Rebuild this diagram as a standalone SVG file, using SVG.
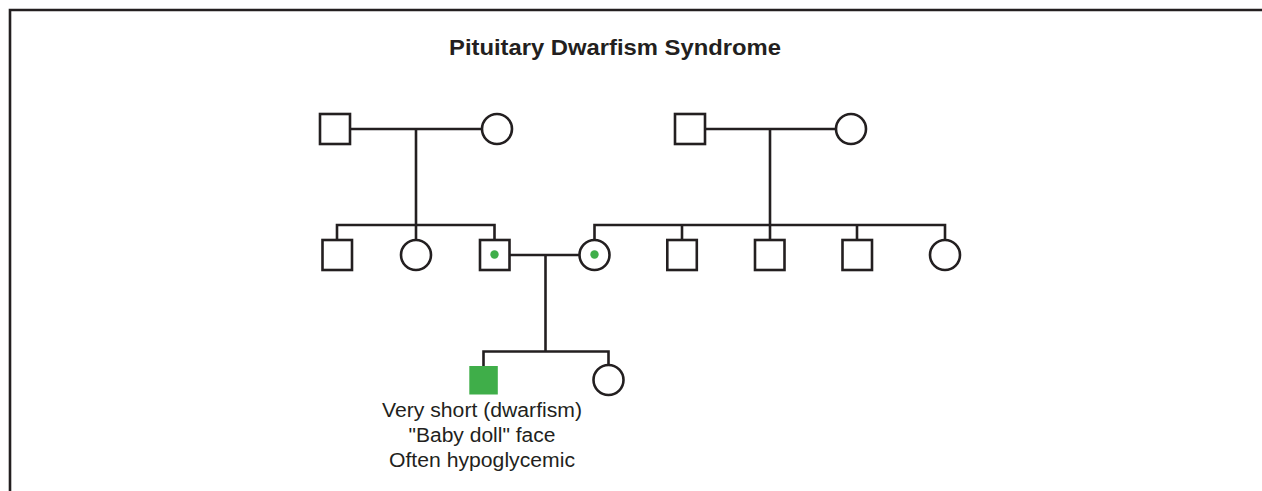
<svg xmlns="http://www.w3.org/2000/svg" width="1262" height="491" viewBox="0 0 1262 491">
<style>
.ln{fill:none;stroke:#231f20;stroke-width:2.6}
.sym{fill:#fff;stroke:#231f20;stroke-width:2.6}
.dot{fill:#3fae49}
.aff{fill:#3fae49}
.title{font-family:"Liberation Sans",Arial,sans-serif;font-weight:bold;font-size:22px;fill:#231f20;text-anchor:middle}
.lbl{font-family:"Liberation Sans",Arial,sans-serif;font-size:20px;fill:#231f20;text-anchor:middle}
</style>
<rect width="1262" height="491" fill="#fff"/>
<path class="ln" d="M10,491 V10 H1262" stroke-width="2.8"/>
<text class="title" x="615" y="55" textLength="332" lengthAdjust="spacingAndGlyphs">Pituitary Dwarfism Syndrome</text>
<g id="connectors">
<path class="ln" d="M350,129 H482"/>
<path class="ln" d="M416,129 V225"/>
<path class="ln" d="M337,240 V225 H494.5 V240"/>
<path class="ln" d="M416,225 V240"/>
<path class="ln" d="M705,129 H836"/>
<path class="ln" d="M770,129 V225"/>
<path class="ln" d="M594.5,240 V225 H945 V240"/>
<path class="ln" d="M682,225 V240"/>
<path class="ln" d="M770,225 V240"/>
<path class="ln" d="M857,225 V240"/>
<path class="ln" d="M509.5,255 H579.5"/>
<path class="ln" d="M545.5,255 V351.5"/>
<path class="ln" d="M483.5,366 V351.5 H608.5 V365"/>
</g>
<g id="gp1-male"><rect class="sym" x="320" y="114" width="30" height="30"/></g>
<g id="gp1-female"><circle class="sym" cx="497" cy="129" r="15"/></g>
<g id="gp2-male"><rect class="sym" x="675" y="114" width="30" height="30"/></g>
<g id="gp2-female"><circle class="sym" cx="851" cy="129" r="15"/></g>
<g id="c1-son1"><rect class="sym" x="322.5" y="240" width="29.5" height="30"/></g>
<g id="c1-daughter"><circle class="sym" cx="416" cy="255" r="15"/></g>
<g id="father"><rect class="sym" x="480" y="240" width="29.5" height="30"/><circle class="dot" cx="494.5" cy="254.5" r="4.2"/></g>
<g id="mother"><circle class="sym" cx="594.5" cy="255" r="15"/><circle class="dot" cx="594.5" cy="254.5" r="4.2"/></g>
<g id="c2-son1"><rect class="sym" x="667.3" y="240" width="29.5" height="30"/></g>
<g id="c2-son2"><rect class="sym" x="755" y="240" width="29.5" height="30"/></g>
<g id="c2-son3"><rect class="sym" x="842.5" y="240" width="29.5" height="30"/></g>
<g id="c2-daughter"><circle class="sym" cx="945" cy="255" r="15"/></g>
<g id="affected-son">
<rect class="aff" x="469.3" y="366" width="28.5" height="28.5"/>
<text class="lbl" x="482" y="417" textLength="200" lengthAdjust="spacingAndGlyphs">Very short (dwarfism)</text>
<text class="lbl" x="482" y="442" textLength="147" lengthAdjust="spacingAndGlyphs">"Baby doll" face</text>
<text class="lbl" x="482" y="467" textLength="186" lengthAdjust="spacingAndGlyphs">Often hypoglycemic</text>
</g>
<g id="daughter"><circle class="sym" cx="608.5" cy="380" r="15"/></g>
</svg>
